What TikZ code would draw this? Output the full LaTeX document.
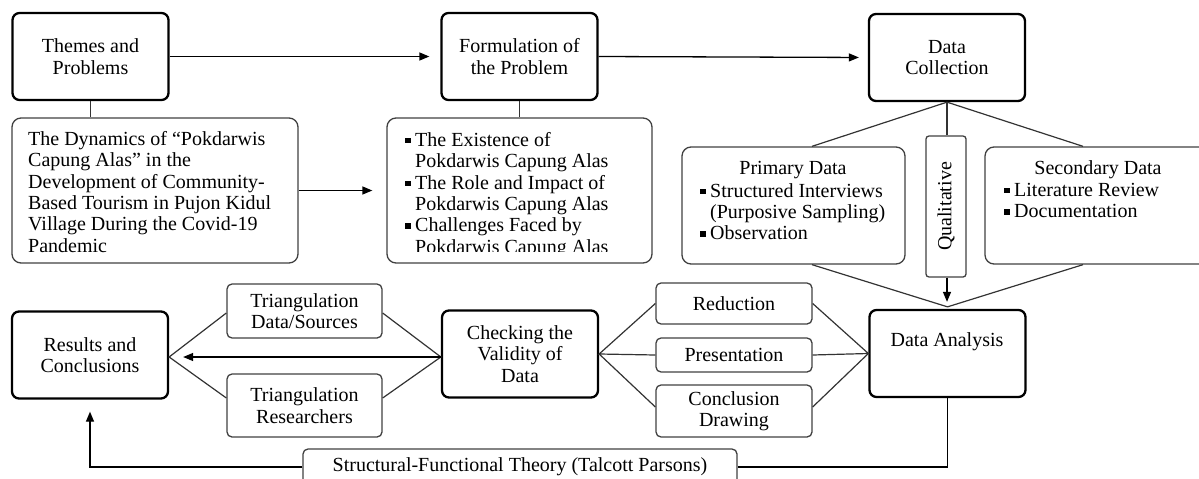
\documentclass[tikz,border=0pt]{standalone}
\usepackage{fontspec}
\setmainfont{Liberation Serif}
\usetikzlibrary{calc,arrows.meta}
\newcommand\bul{\makebox[10pt][l]{\rule[3pt]{5.5pt}{5.5pt}}}
\newcommand\ind{\hspace*{10pt}}
\begin{document}
\begin{tikzpicture}[x=1pt,y=-1pt,
  font=\fontsize{20}{21.4}\selectfont,
  bigbox/.style={draw=black, line width=2.3pt, rounded corners=7pt, inner sep=0pt, align=center, minimum width=156pt, minimum height=87pt},
  thinbox/.style={draw=black!75, line width=1.3pt, rounded corners=9pt, inner sep=0pt, align=center},
  smallbox/.style={draw=black!75, line width=1.3pt, rounded corners=5pt, inner sep=0pt, align=center, minimum width=156pt},
  txt/.style={inner sep=0pt, align=left},
  conn/.style={draw=black!80, line width=1.2pt},
  arr/.style={draw=black, line width=1.3pt, -{Triangle[length=10pt,width=8pt]}}]
\useasboundingbox (0,0) rectangle (1199,479);

% top row
\node[bigbox] (themes) at (90.5,56.5) {Themes and\\Problems};
\node[bigbox] (form) at (519.5,56.5) {Formulation of\\the Problem};
\node[bigbox] (dc) at (947,57.5) {Data\\Collection};

% second row
\node[thinbox, minimum width=286pt, minimum height=145pt] (dyn) at (155,190.5) {};
\node[txt, anchor=north west] (dyntext) at (28,131) {The Dynamics of “Pokdarwis\\Capung Alas” in the\\Development of Community-\\Based Tourism in Pujon Kidul\\Village During the Covid-19\\Pandemic};

\node[thinbox, minimum width=265pt, minimum height=145pt] (flist) at (519.5,190.5) {};
\begin{scope}
\clip (388,119) rectangle (651,251);
\node[txt, anchor=north west] (flisttext) at (405,132) {\bul The Existence of\\\ind Pokdarwis Capung Alas\\\bul The Role and Impact of\\\ind Pokdarwis Capung Alas\\\bul Challenges Faced by\\\ind Pokdarwis Capung Alas};
\end{scope}

\node[thinbox, minimum width=223pt, minimum height=117pt] (prim) at (793.5,205.5) {};
\node[anchor=base, inner sep=0pt] (primtitle) at (793,174.6) {Primary Data};
\node[txt, anchor=north west] (primlist) at (700,183) {\bul Structured Interviews\\\ind (Purposive Sampling)\\\bul Observation};

\node[thinbox, rounded corners=3pt, minimum width=40pt, minimum height=141pt] (qual) at (946,206.5) {\rotatebox{90}{Qualitative}};

\node[thinbox, minimum width=232pt, minimum height=117pt] (sec) at (1101,205.5) {};
\node[anchor=base, inner sep=0pt] (sectitle) at (1098,174.6) {Secondary Data};
\node[txt, anchor=north west] (seclist) at (1004,183) {\bul Literature Review\\\bul Documentation};

% bottom part
\node[bigbox] (da) at (947.5,353.5) {};
\node[anchor=base, inner sep=0pt] (datext) at (947,346.6) {Data Analysis};

\node[smallbox, minimum height=41pt] (red) at (734,303.5) {Reduction};
\node[smallbox, minimum height=34pt] (pres) at (734,355) {Presentation};
\node[smallbox, minimum height=52pt] (concl) at (734,411) {Conclusion\\Drawing};

\node[bigbox] (check) at (520,354) {Checking the\\Validity of\\Data};

\node[smallbox, minimum width=155pt, minimum height=54pt] (tds) at (304.5,311) {Triangulation\\Data/Sources};
\node[smallbox, minimum width=155pt, minimum height=63pt] (tr) at (304.5,405.5) {Triangulation\\Researchers};

\node[bigbox] (res) at (90,355) {Results and\\Conclusions};

\node[smallbox, minimum width=434pt, minimum height=36pt] (struct) at (520,467) {Structural-Functional Theory (Talcott Parsons)};

% connectors top
\draw[conn] (themes.south) -- (themes.south |- dyn.north);
\draw[conn] (form.south) -- (form.south |- flist.north);
\draw[arr, shorten >=11pt] (themes.east) -- (form.west);
\draw[arr, shorten >=9pt] (form.east) -- (dc.west);
\draw[arr, shorten >=14pt] (dyn.east) -- (dyn.east -| flist.west);

\coordinate (ptop) at ($(prim.north)+(18.5,0)$);
\coordinate (stop) at ($(sec.north)+(-18,0)$);
\coordinate (pbot) at ($(prim.south)+(18.5,0)$);
\coordinate (sbot) at ($(sec.south)+(-18,0)$);
\coordinate (conv) at ($(da.north)+(0,-2)$);
\draw[conn] (ptop) -- (dc.south) -- (stop);
\draw[conn] (dc.south) -- (dc.south |- qual.north);
\draw[arr, shorten >=7pt] (dc.south |- qual.south) -- (dc.south |- da.north);
\draw[conn] (pbot) -- (conv) -- (sbot);

% analysis connectors
\draw[conn] (red.west) -- (check.east) -- (pres.west);
\draw[conn] (check.east) -- ($(concl.west)+(0,-4)$);
\draw[conn] (red.east) -- (da.west) -- (pres.east);
\draw[conn] (da.west) -- ($(concl.east)+(0,-4)$);

% validity connectors
\coordinate (cw) at ($(check.west)+(0,3)$);
\coordinate (re) at ($(res.east)+(0,2)$);
\draw[conn] ($(tds.east)+(0,2)$) -- (cw) -- ($(tr.east)+(0,-7.5)$);
\draw[conn] ($(tds.west)+(0,2)$) -- (re) -- ($(tr.west)+(0,-7.5)$);
\draw[arr, shorten >=14pt] (cw) -- (re);

% theory loop
\draw[conn, draw=black] (da.south) |- (struct.east);
\draw[arr, shorten >=12pt] (struct.west) -| (res.south);
\end{tikzpicture}
\end{document}
